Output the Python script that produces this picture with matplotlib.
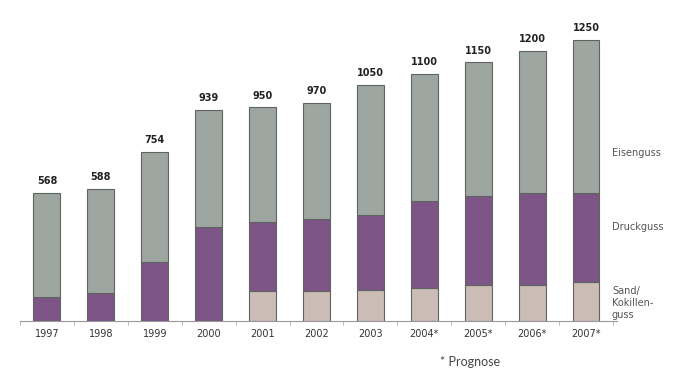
import matplotlib.pyplot as plt

years = ["1997", "1998", "1999", "2000", "2001", "2002", "2003",
         "2004*", "2005*", "2006*", "2007*"]
totals = [568, 588, 754, 939, 950, 970, 1050, 1100, 1150, 1200, 1250]
sand = [0, 0, 0, 0, 135, 135, 138, 148, 160, 160, 173]
druck = [107, 125, 264, 418, 306, 319, 333, 387, 397, 411, 398]
eisen = [t - s - d for t, s, d in zip(totals, sand, druck)]

gray = "#9ea6a2"
purple = "#7d5587"
beige = "#cbbcb6"
edge = "#5f6461"

fig = plt.figure(figsize=(6.94, 3.74), dpi=100)
ax = fig.add_axes([20 / 694, 53 / 374, 597 / 694, 314.7 / 374])

x = range(len(years))
w = 0.5
bottom_druck = sand
bottom_eisen = [s + d for s, d in zip(sand, druck)]
ax.bar(x, sand, w, color=beige, edgecolor=edge, linewidth=0.8)
ax.bar(x, druck, w, bottom=bottom_druck, color=purple, edgecolor=edge, linewidth=0.8)
ax.bar(x, eisen, w, bottom=bottom_eisen, color=gray, edgecolor=edge, linewidth=0.8)

for i, t in enumerate(totals):
    ax.annotate(str(t), (i, t), xytext=(0, 5), textcoords="offset points",
                ha="center", va="bottom", fontsize=7, fontweight="bold", color="#222222")

ax.set_xlim(-0.5, 10.575)
ax.set_ylim(0, 1400)

for s in ["top", "right", "left"]:
    ax.spines[s].set_visible(False)
ax.spines["bottom"].set_color("#999999")
ax.spines["bottom"].set_linewidth(0.8)
ax.set_yticks([])
ax.set_xticks([i + 0.5 for i in range(-1, len(years))], minor=False)
ax.set_xticklabels([])
ax.tick_params(axis="x", length=3, color="#aaaaaa", width=0.6)

for i, yr in enumerate(years):
    ax.text(i, -35, yr, ha="center", va="top", fontsize=7, color="#333333")

ax.text(10.48, 747, "Eisenguss", ha="left", va="center", fontsize=7, color="#555555")
ax.text(10.48, 418, "Druckguss", ha="left", va="center", fontsize=7, color="#555555")
ax.text(10.48, 80, "Sand/\nKokillen-\nguss", ha="left", va="center", fontsize=7,
        color="#555555", linespacing=1.3)

fig.text(440 / 694, 1 - 362 / 374, "* Prognose", ha="left", va="center",
         fontsize=9, family="Lato", color="#444444")

fig.savefig("out.png", dpi=100)
